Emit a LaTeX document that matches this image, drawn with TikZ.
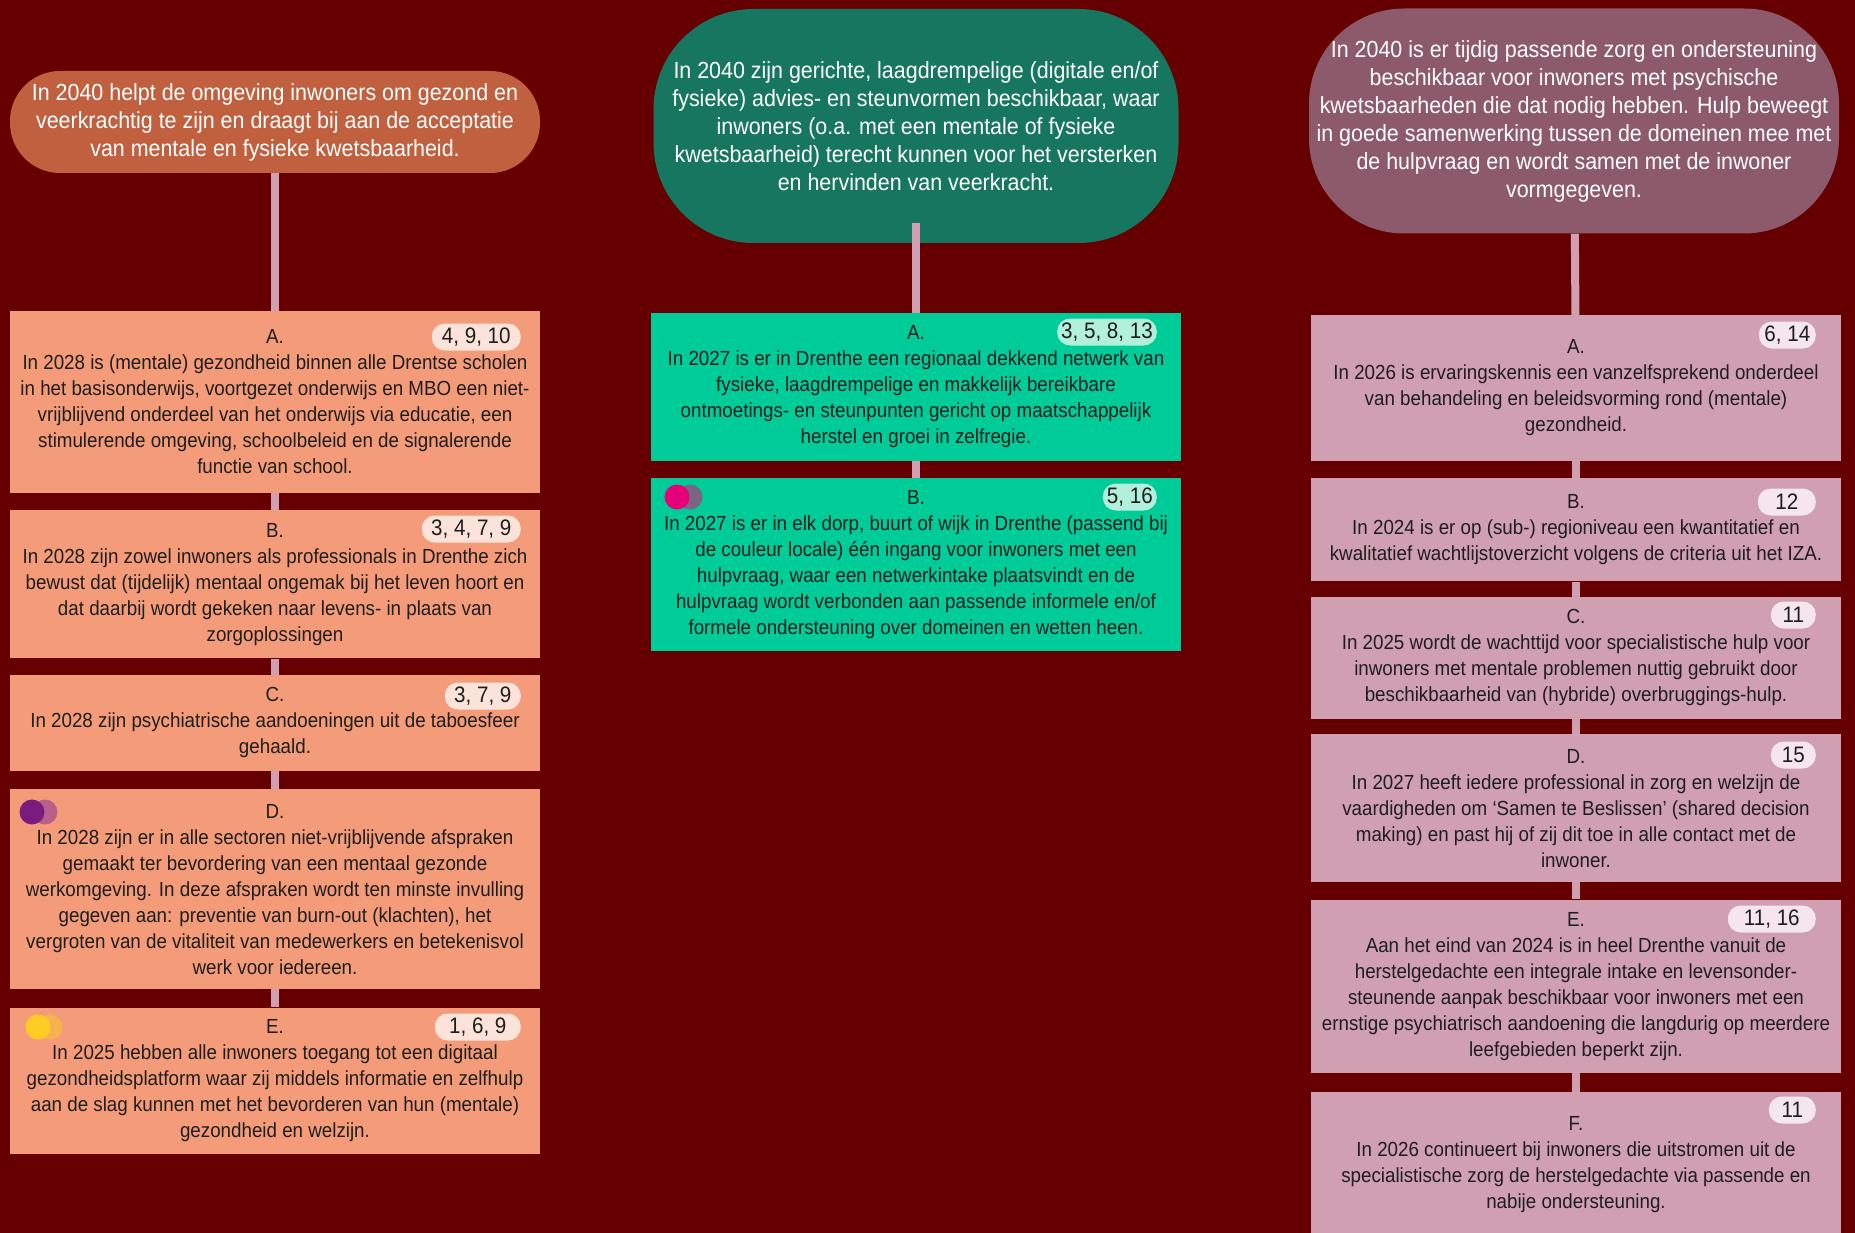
\documentclass[tikz,border=0pt]{standalone}
\usepackage{fontspec}
\setmainfont{Liberation Sans}[FakeStretch=0.92]
\usetikzlibrary{positioning}
\definecolor{bgred}{HTML}{660000}
\definecolor{goalorange}{HTML}{C0603E}
\definecolor{goalteal}{HTML}{17765F}
\definecolor{goalmauve}{HTML}{8D5A6B}
\definecolor{boxsalmon}{HTML}{F49B7A}
\definecolor{boxmint}{HTML}{00CC99}
\definecolor{boxpink}{HTML}{D09FB1}
\definecolor{linkpink}{HTML}{D09FB1}
\definecolor{badgesalmon}{HTML}{FBE3D9}
\definecolor{badgemint}{HTML}{B2F0DC}
\definecolor{badgepink}{HTML}{F4E6EC}
\definecolor{textdark}{HTML}{1E1E1E}
\definecolor{dotpurple}{HTML}{7A1B7E}
\definecolor{dotmauve}{HTML}{B9608A}
\definecolor{dotyellow}{HTML}{FFCB25}
\definecolor{dotorange}{HTML}{F7B24F}
\definecolor{dotmagenta}{HTML}{E6007A}
\definecolor{dotgrey}{HTML}{7A6587}
\tikzstyle{goal} = [rectangle, text=white, align=center, inner sep=0pt, font=\fontsize{23.3}{28}\selectfont]
\tikzstyle{target} = [rectangle, minimum width=530pt, inner sep=0pt, align=center, text=textdark, font=\fontsize{20.4}{26}\selectfont]
\tikzstyle{link} = [draw=linkpink, line width=8pt]
\tikzstyle{badge} = [rectangle, rounded corners=13pt, minimum height=27pt, inner xsep=4pt, inner ysep=0pt, anchor=east, text=textdark, font=\fontsize{22.4}{26}\selectfont]
\pgfdeclarelayer{background}
\pgfsetlayers{background,main}

\begin{document}
\begin{tikzpicture}[x=1pt, y=-1pt]
    \useasboundingbox (0,0) rectangle (1855,1233);

    % Place goals
    \node [goal, fill=goalorange, minimum width=530pt, minimum height=102pt, rounded corners=50pt] (goal-omgeving) at (275,122)
        {In 2040 helpt de omgeving inwoners om gezond en\\veerkrachtig te zijn en draagt bij aan de acceptatie\\van mentale en fysieke kwetsbaarheid.};
    \node [goal, fill=goalteal, minimum width=525pt, minimum height=234pt, rounded corners=100pt] (goal-steun) at (916,126)
        {In 2040 zijn gerichte, laagdrempelige (digitale en/of\\fysieke) advies- en steunvormen beschikbaar, waar\\inwoners (o.a. met een mentale of fysieke\\kwetsbaarheid) terecht kunnen voor het versterken\\en hervinden van veerkracht.};
    \node [goal, fill=goalmauve, minimum width=530pt, minimum height=225pt, rounded corners=95pt] (goal-zorg) at (1574,121)
        {In 2040 is er tijdig passende zorg en ondersteuning\\beschikbaar voor inwoners met psychische\\kwetsbaarheden die dat nodig hebben. Hulp beweegt\\in goede samenwerking tussen de domeinen mee met\\de hulpvraag en wordt samen met de inwoner\\vormgegeven.};

    % Left column
    \node [target, fill=boxsalmon, minimum height=182pt] (omgeving-a) at (275,402)
        {A.\\In 2028 is (mentale) gezondheid binnen alle Drentse scholen\\in het basisonderwijs, voortgezet onderwijs en MBO een niet-\\vrijblijvend onderdeel van het onderwijs via educatie, een\\stimulerende omgeving, schoolbeleid en de signalerende\\functie van school.};
    \node [target, fill=boxsalmon, minimum height=148pt, below=17pt of omgeving-a] (omgeving-b)
        {B.\\In 2028 zijn zowel inwoners als professionals in Drenthe zich\\bewust dat (tijdelijk) mentaal ongemak bij het leven hoort en\\dat daarbij wordt gekeken naar levens- in plaats van\\zorgoplossingen};
    \node [target, fill=boxsalmon, minimum height=96pt, below=16pt of omgeving-b] (omgeving-c)
        {C.\\In 2028 zijn psychiatrische aandoeningen uit de taboesfeer\\gehaald.};
    \node [target, fill=boxsalmon, minimum height=200pt, below=18pt of omgeving-c] (omgeving-d)
        {D.\\In 2028 zijn er in alle sectoren niet-vrijblijvende afspraken\\gemaakt ter bevordering van een mentaal gezonde\\werkomgeving. In deze afspraken wordt ten minste invulling\\gegeven aan: preventie van burn-out (klachten), het\\vergroten van de vitaliteit van medewerkers en betekenisvol\\werk voor iedereen.};
    \node [target, fill=boxsalmon, minimum height=146pt, below=18pt of omgeving-d] (omgeving-e)
        {E.\\In 2025 hebben alle inwoners toegang tot een digitaal\\gezondheidsplatform waar zij middels informatie en zelfhulp\\aan de slag kunnen met het bevorderen van hun (mentale)\\gezondheid en welzijn.};

    % Middle column
    \node [target, fill=boxmint, minimum height=148pt] (steun-a) at (916,387)
        {A.\\In 2027 is er in Drenthe een regionaal dekkend netwerk van\\fysieke, laagdrempelige en makkelijk bereikbare\\ontmoetings- en steunpunten gericht op maatschappelijk\\herstel en groei in zelfregie.};
    \node [target, fill=boxmint, minimum height=173pt, below=17pt of steun-a] (steun-b)
        {B.\\In 2027 is er in elk dorp, buurt of wijk in Drenthe (passend bij\\de couleur locale) één ingang voor inwoners met een\\hulpvraag, waar een netwerkintake plaatsvindt en de\\hulpvraag wordt verbonden aan passende informele en/of\\formele ondersteuning over domeinen en wetten heen.};

    % Right column
    \node [target, fill=boxpink, minimum height=146pt] (zorg-a) at (1576,388)
        {A.\\In 2026 is ervaringskennis een vanzelfsprekend onderdeel\\van behandeling en beleidsvorming rond (mentale)\\gezondheid.};
    \node [target, fill=boxpink, minimum height=103pt, below=17pt of zorg-a] (zorg-b)
        {B.\\In 2024 is er op (sub-) regioniveau een kwantitatief en\\kwalitatief wachtlijstoverzicht volgens de criteria uit het IZA.};
    \node [target, fill=boxpink, minimum height=122pt, below=15pt of zorg-b] (zorg-c)
        {C.\\In 2025 wordt de wachttijd voor specialistische hulp voor\\inwoners met mentale problemen nuttig gebruikt door\\beschikbaarheid van (hybride) overbruggings-hulp.};
    \node [target, fill=boxpink, minimum height=148pt, below=15pt of zorg-c] (zorg-d)
        {D.\\In 2027 heeft iedere professional in zorg en welzijn de\\vaardigheden om ‘Samen te Beslissen’ (shared decision\\making) en past hij of zij dit toe in alle contact met de\\inwoner.};
    \node [target, fill=boxpink, minimum height=173pt, below=17pt of zorg-d] (zorg-e)
        {E.\\Aan het eind van 2024 is in heel Drenthe vanuit de\\herstelgedachte een integrale intake en levensonder-\\steunende aanpak beschikbaar voor inwoners met een\\ernstige psychiatrisch aandoening die langdurig op meerdere\\leefgebieden beperkt zijn.};
    \node [target, fill=boxpink, minimum height=146pt, below=19pt of zorg-e] (zorg-f)
        {F.\\In 2026 continueert bij inwoners die uitstromen uit de\\specialistische zorg de herstelgedachte via passende en\\nabije ondersteuning.};

    % Badges
    \node [badge, fill=badgesalmon, minimum width=89pt] (badge-oa) at (521,337) {4, 9, 10};
    \node [badge, fill=badgesalmon, minimum width=99pt] (badge-ob) at (521,529) {3, 4, 7, 9};
    \node [badge, fill=badgesalmon, minimum width=76pt] (badge-oc) at (521,696) {3, 7, 9};
    \node [badge, fill=badgesalmon, minimum width=86pt] (badge-oe) at (521,1027) {1, 6, 9};
    \node [badge, fill=badgemint, minimum width=97pt] (badge-sa) at (1157,332) {3, 5, 8, 13};
    \node [badge, fill=badgemint, minimum width=54pt] (badge-sb) at (1157,497) {5, 16};
    \node [badge, fill=badgepink, minimum width=57pt] (badge-za) at (1816,335) {6, 14};
    \node [badge, fill=badgepink, minimum width=58pt] (badge-zb) at (1816,502) {12};
    \node [badge, fill=badgepink, minimum width=45pt] (badge-zc) at (1816,615) {11};
    \node [badge, fill=badgepink, minimum width=45pt] (badge-zd) at (1816,755) {15};
    \node [badge, fill=badgepink, minimum width=88pt] (badge-ze) at (1816,919) {11, 16};
    \node [badge, fill=badgepink, minimum width=47pt] (badge-zf) at (1816,1110) {11};

    % Dots
    \fill [dotmauve] (45,812) circle (12.5pt);
    \fill [dotpurple] (32,812) circle (12.5pt);
    \fill [dotorange] (50,1027) circle (12.5pt);
    \fill [dotyellow] (38,1027) circle (12.5pt);
    \fill [dotgrey] (690,497) circle (12.5pt);
    \fill [dotmagenta] (677,497) circle (12.5pt);

    % Middle link sits on top of its goal
    \path [link] ([yshift=20pt]goal-steun.south) -- (steun-a);

    % Background and links
    \begin{pgfonlayer}{background}
        \fill [bgred] (0,0) rectangle (1855,1233);
        \path [link] (goal-omgeving) -- (omgeving-a);
        \path [link] (omgeving-a) -- (omgeving-b);
        \path [link] (omgeving-b) -- (omgeving-c);
        \path [link] (omgeving-c) -- (omgeving-d);
        \path [link] (omgeving-d) -- (omgeving-e);
        \path [link] (steun-a) -- (steun-b);
        \path [link] (goal-zorg) -- (zorg-a);
        \path [link] (zorg-a) -- (zorg-b);
        \path [link] (zorg-b) -- (zorg-c);
        \path [link] (zorg-c) -- (zorg-d);
        \path [link] (zorg-d) -- (zorg-e);
        \path [link] (zorg-e) -- (zorg-f);
    \end{pgfonlayer}
\end{tikzpicture}
\end{document}
